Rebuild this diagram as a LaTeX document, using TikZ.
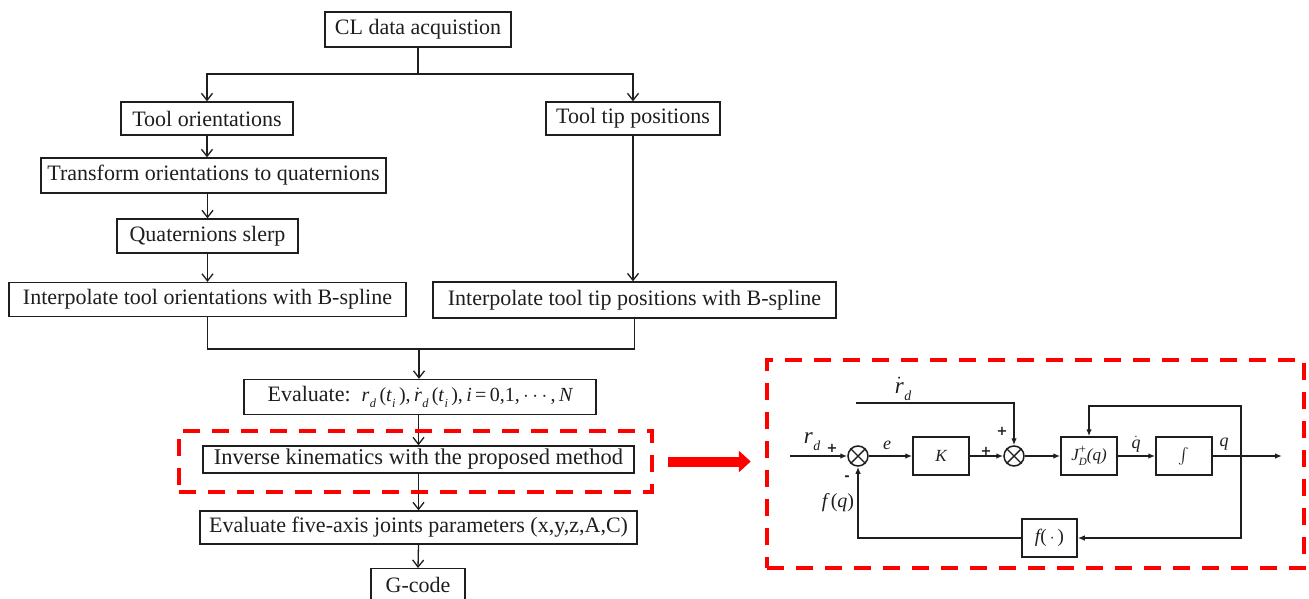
\documentclass[tikz,border=0pt]{standalone}
\usepackage{graphicx}
\usepackage{fontspec}
\setmainfont{Liberation Serif}
\newfontfamily\serf{Liberation Serif}
\newfontfamily\sgnf{DejaVu Sans}
\usetikzlibrary{arrows.meta,calc}
\definecolor{ink}{HTML}{1E1E1E}
\newcommand\vsub[3][0.62]{{\itshape #2}\kern0.5pt\raisebox{-0.3em}{\scalebox{#1}{\itshape #3}}}
\newcommand\vdot[1]{\ensuremath{\dot{\hbox{\itshape #1}}}}
\begin{document}
\begin{tikzpicture}[x=1pt,y=-1pt,
  fbox/.style={draw=ink, line width=1.3pt, inner sep=0pt, text=ink, font=\serf\fontsize{22}{26}\selectfont},
  farr/.style={draw=ink, line width=1.3pt, -{Straight Barb[length=7pt,width=11pt]}},
  fline/.style={draw=ink, line width=1.3pt},
  rdash/.style={draw=red, line width=4.5pt, dash pattern=on 17pt off 12pt, inner sep=0pt},
  bigarrow/.style={draw=red, line width=10pt, -{Triangle[length=12pt,width=21pt]}},
  cbox/.style={draw=ink, line width=1.5pt, inner sep=0pt, minimum width=56pt, minimum height=38pt, text=ink, font=\serf\fontsize{17}{20}\selectfont},
  sumnode/.style={draw=ink, circle, line width=1.5pt, minimum size=20pt, inner sep=0pt},
  cline/.style={draw=ink, line width=1.4pt},
  carr/.style={draw=ink, line width=1.4pt, -{Latex[length=7pt,width=5.5pt]}},
  clab/.style={text=ink, inner sep=0pt, font=\serf\fontsize{18}{21}\selectfont},
  sgn/.style={text=ink, inner sep=0pt, font=\sgnf\bfseries\fontsize{13}{15}\selectfont}
]
\clip (0,0) rectangle (1309,599);
\fill[white] (0,0) rectangle (1309,599);

% ---------- flowchart ----------
\node[fbox, minimum width=186pt, minimum height=35pt] (cl) at (418,29.5) {CL data acquistion};
\node[fbox, minimum width=172pt, minimum height=33pt] (tor) at (207,118.5) {Tool orientations};
\node[fbox, minimum width=174pt, minimum height=33pt] (ttp) at (633,118.5) {Tool tip positions};
\node[fbox, minimum width=345pt, minimum height=35pt] (tq) at (213.5,175.5) {Transform orientations to quaternions};
\node[fbox, minimum width=181pt, minimum height=34pt] (sl) at (207.5,236) {Quaternions slerp};
\node[fbox, minimum width=397pt, minimum height=34pt] (io) at (207.5,299.5) {Interpolate tool orientations with B-spline};
\node[fbox, minimum width=403pt, minimum height=36pt] (ip) at (634.5,300) {Interpolate tool tip positions with B-spline};
\node[fbox, minimum width=352pt, minimum height=35pt] (ev) at (420,397)
  {Evaluate:\ \ {\fontsize{20}{24}\selectfont\vsub{r}{d}\,(\vsub{t}{i}\,),\,\vdot{r}\kern0.5pt\raisebox{-0.3em}{\scalebox{0.62}{\itshape d}}\,(\vsub{t}{i}\,),\,{\itshape i}\,=\,0,1,\,$\cdots$\,,\,{\itshape N}}};
\node[fbox, minimum width=431pt, minimum height=27pt, font=\serf\fontsize{22.5}{26}\selectfont] (ik) at (418.5,459.5) {Inverse kinematics with the proposed method};
\node[fbox, minimum width=437pt, minimum height=33pt] (fa) at (418.5,527.5) {Evaluate five-axis joints parameters (x,y,z,A,C)};
\node[fbox, minimum width=94pt, minimum height=33pt, anchor=north] (gc) at (418,568) {G-code};

\coordinate (split) at (418,74);
\coordinate (merge) at (419,349);
\draw[fline] (cl.south) -- (split);
\draw[farr] (split) -| (tor.north);
\draw[farr] (split) -| (ttp.north);
\draw[farr] (tor.south) -- (tor.south |- tq.north);
\draw[farr] (sl.north |- tq.south) -- (sl.north);
\draw[farr] (sl.south) -- (io.north);
\draw[farr] (ttp.south) -- (ttp.south |- ip.north);
\draw[fline] (io.south) |- (merge);
\draw[fline] (ip.south) |- (merge);
\draw[farr] (merge) -- (merge |- ev.north);
\draw[farr] (ev.south -| ik.north) -- (ik.north);
\draw[farr] (ik.south) -- (fa.north);
\draw[farr] (fa.south) -- (gc.north);

% ---------- red highlight ----------
\node[rdash, minimum width=473pt, minimum height=61pt] (lbox) at (415.5,461.5) {};
\node[rdash, minimum width=537pt, minimum height=208pt] (rbox) at (1035.5,464) {};
\draw[bigarrow] ([xshift=14pt]lbox.east) -- ([xshift=-14pt]rbox.west |- lbox.east);

% ---------- control loop ----------
\node[sumnode] (s1) at (858,456) {};
\node[sumnode] (s2) at (1014,456) {};
\draw[cline] (s1.north west) -- (s1.south east) (s1.north east) -- (s1.south west);
\draw[cline] (s2.north west) -- (s2.south east) (s2.north east) -- (s2.south west);
\node[cbox] (kb) at (941,456) {\itshape K};
\node[cbox] (jb) at (1089,456) {{\itshape J}\rlap{\raisebox{0.42em}{\scalebox{0.75}{+}}}\raisebox{-0.3em}{\scalebox{0.65}{\itshape D}}{\itshape (q)}};
\node[cbox] (ib) at (1184,456) {\scalebox{1.6}{$\int$}};
\node[cbox, minimum width=55pt, font=\serf\fontsize{19}{22}\selectfont] (fb) at (1049.5,538) {{\itshape f}(\,$\cdot$\,)};

\coordinate (rin) at (790,456);
\coordinate (rdin) at (856,403);
\coordinate (br) at (1241,456);
\coordinate (tp) at (1241,406);
\coordinate (out) at (1282,456);

\draw[carr] (rin) -- (s1.west);
\draw[carr] (s1.east) -- (kb.west);
\draw[carr] (kb.east) -- (s2.west);
\draw[carr] (rdin) -| (s2.north);
\draw[carr] (s2.east) -- (jb.west);
\draw[carr] (jb.east) -- (ib.west);
\draw[carr] (ib.east) -- (out);
\draw[carr] (br) -- (tp) -| (jb.north);
\draw[carr] (br) |- (fb.east);
\draw[carr] (fb.west) -| (s1.south);

\node[clab, font=\serf\fontsize{23}{26}\selectfont] (lrd) at (812,442) {\vsub[0.6]{r}{d}};
\node[clab, font=\serf\fontsize{23}{26}\selectfont] (lrdd) at (903,389) {\vdot{r}\kern0.5pt\raisebox{-0.3em}{\scalebox{0.6}{\itshape d}}};
\node[clab] (le) at (887,445) {\itshape e};
\node[clab, font=\serf\fontsize{20}{23}\selectfont] (lfq) at (838,503) {{\itshape f}\,({\itshape q})};
\node[clab] (lqd) at (1136,444) {\vdot{q}};
\node[clab] (lq) at (1224,444) {\itshape q};
\node[sgn] (p1) at (832,448) {+};
\node[sgn] (m1) at (847,478) {-};
\node[sgn] (p2) at (986,451) {+};
\node[sgn] (p3) at (1002,431) {+};
\end{tikzpicture}
\end{document}
